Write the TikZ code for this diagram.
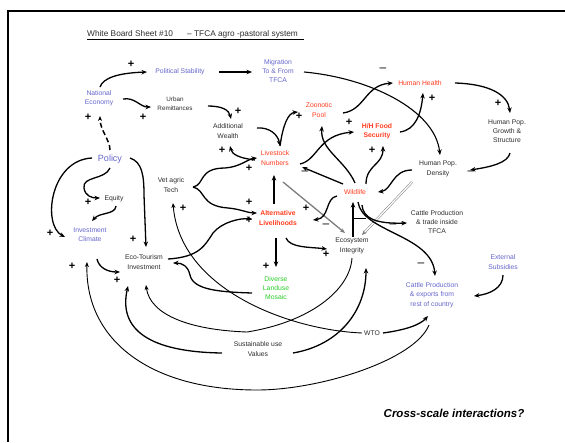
\documentclass[tikz,border=0pt]{standalone}
\usepackage{fontspec}
\setmainfont{Liberation Sans}
\usetikzlibrary{arrows.meta,calc}
\definecolor{tblue}{RGB}{102,102,204}
\definecolor{tred}{RGB}{255,60,30}
\definecolor{tgreen}{RGB}{40,205,40}
\definecolor{txt}{RGB}{45,45,45}
\definecolor{lgray}{RGB}{125,125,125}
\begin{document}
\begin{tikzpicture}[x=1pt,y=-1pt,
  lbl/.style={font=\fontsize{6.8}{9.3}\selectfont, text=txt, align=center, inner sep=0pt},
  blu/.style={lbl, text=tblue},
  rd/.style={lbl, text=tred},
  rdb/.style={lbl, text=tred, font=\fontsize{6.8}{9.3}\selectfont\bfseries},
  grn/.style={lbl, text=tgreen},
  ttl/.style={font=\fontsize{8.3}{9}\selectfont, text=txt, inner sep=0pt, anchor=base west},
  plus/.style={font=\fontsize{11}{11}\selectfont\bfseries, inner sep=0pt},
  minus/.style={font=\fontsize{12}{12}\selectfont, inner sep=0pt},
  arr/.style={line width=1.3pt, -{Stealth[length=5.5pt,width=4.5pt]}},
  thinarr/.style={line width=0.9pt, -{Stealth[length=5pt,width=4pt]}},
  thinline/.style={line width=0.9pt},
  gryarr/.style={line width=1.3pt, draw=lgray, -{Stealth[length=5pt,width=4pt]}},
  dblarr/.style={draw=lgray, line width=0.5pt, double=white, double distance=1.3pt, -{Stealth[length=5pt,width=4pt]}},
  dasharr/.style={line width=1.5pt, dash pattern=on 5pt off 3pt, -{Stealth[length=5pt,width=4pt]}}
]
\useasboundingbox (0,0) rectangle (565,442);
\fill[white] (0,0) rectangle (565,442);
\draw[line width=2pt] (8,442) -- (8,11) -- (565,11);

% title
\node[ttl] (t1) at (87,36) {White Board Sheet \#10};
\node[ttl] (t2) at (187,36) {– TFCA agro -pastoral system};
\draw[line width=0.6pt] ($(t1.base west)+(0,3)$) -- ($(t2.base east)+(6,3)$);

% nodes
\node[blu] (ne) at (99,98) {National\\Economy};
\node[blu] (ps) at (180,72) {Political Stability};
\node[blu] (mig) at (278,71) {Migration\\To \& From\\TFCA};
\node[lbl, font=\fontsize{6.3}{9.3}\selectfont] (ur) at (175,104) {Urban\\Remittances};
\node[lbl] (aw) at (228,131) {Additional\\Wealth};
\node[rd] (zp) at (319,110) {Zoonotic\\Pool};
\node[rd] (hh) at (420,83) {Human Health};
\node[rdb] (hfs) at (377,131) {H/H Food\\Security};
\node[lbl] (hpg) at (507,131) {Human Pop.\\Growth \&\\Structure};
\node[lbl] (hpd) at (438,169) {Human Pop.\\Density};
\node[rd] (ln) at (275,158) {Livestock\\Numbers};
\node[rd] (wl) at (355,192) {Wildlife};
\node[rdb] (al) at (278,218) {Alternative\\Livelihoods};
\node[lbl] (ei) at (352,246) {Ecosystem\\Integrity};
\node[lbl] (cpt) at (437,222) {Cattle Production\\\& trade inside\\TFCA};
\node[blu] (es) at (503,262) {External\\Subsidies};
\node[blu] (cpe) at (432,295) {Cattle Production\\\& exports from\\rest of country};
\node[blu, font=\fontsize{9}{10}\selectfont] (pol) at (110,159) {Policy};
\node[lbl] (eq) at (114,199) {Equity};
\node[lbl] (vat) at (171,185) {Vet agric\\Tech};
\node[blu] (ic) at (90,235) {Investment\\Climate};
\node[lbl] (eti) at (144,262) {Eco-Tourism\\Investment};
\node[grn] (dlm) at (276,288) {Diverse\\Landuse\\Mosaic};
\node[lbl] (suv) at (258,349) {Sustainable use\\Values};
\node[lbl] (wto) at (372,333) {WTO};
\node[font=\fontsize{11.5}{12}\selectfont\bfseries\itshape, inner sep=0pt] (cs) at (454,413) {Cross-scale interactions?};

% connectors
\draw[arr] ($(ne)+(1,-11)$) .. controls (103,78) and (118,73) .. ($(ps)+(-33,0)$);
\draw[arr] ($(ps)+(39,0)$) -- ($(mig)+(-26,1)$);
\draw[arr, line width=1.1pt] ($(mig)+(26,1)$) .. controls (370,78) and (435,110) .. ($(hpd)+(2,-14)$);
\draw[arr] ($(ne)+(24,1)$) .. controls (135,97) and (140,107) .. ($(ur)+(-24,3)$);
\draw[arr] ($(ur)+(33,2)$) .. controls (222,106) and (229,110) .. ($(aw)+(3,-12)$);
\draw[arr] ($(aw)+(29,-3)$) .. controls (270,127) and (278,135) .. ($(ln)+(5,-12)$);
\draw[arr] ($(ln)+(5,-12)$) .. controls (283,125) and (288,113) .. ($(zp)+(-21,2)$);
\draw[arr] ($(zp)+(24,3)$) .. controls (365,110) and (365,85) .. ($(hh)+(-27,0)$);
\draw[arr] ($(ln)+(25,6)$) .. controls (318,160) and (318,135) .. ($(hfs)+(-23,1)$);
\draw[arr] ($(wl)+(0,-9)$) .. controls (345,160) and (320,150) .. ($(zp)+(3,16)$);
\draw[arr] ($(wl)+(11,-8)$) .. controls (366,165) and (383,165) .. ($(hfs)+(6,15)$);
\draw[arr] ($(hfs)+(23,1)$) .. controls (415,130) and (421,115) .. ($(hh)+(3,10)$);
\draw[arr] ($(hh)+(35,0)$) .. controls (490,84) and (508,95) .. ($(hpg)+(3,-18)$);
\draw[arr] ($(hpg)+(3,22)$) .. controls (508,163) and (490,167) .. ($(hpd)+(32,1)$);
\draw[arr] ($(hpd)+(-26,1)$) .. controls (392,170) and (392,190) .. ($(wl)+(23,0)$);
\draw[dblarr] ($(hpd)+(-26,13)$) -- ($(ei)+(10,-11)$);
\draw[arr] ($(wl)+(-12,-8)$) -- ($(ln)+(27,9)$);
\draw[gryarr] ($(ln)+(8,24)$) -- ($(ei)+(-7,-13)$);
\draw[arr] ($(al)+(-4,-14)$) -- ($(ln)+(-1,17)$);
\draw[arr] ($(al)+(-2,20)$) -- ($(dlm)+(0,-21)$);
\draw[arr] ($(al)+(8,20)$) .. controls (290,248) and (310,247) .. ($(ei)+(-25,3)$);
\draw[arr] ($(wl)+(-18,4)$) .. controls (325,198) and (330,218) .. ($(al)+(35,2)$);
\draw[arr] ($(vat)+(22,2)$) .. controls (205,185) and (198,168) .. (225,168) .. controls (240,167) and (248,159) .. ($(ln)+(-18,0)$);
\draw[arr] ($(vat)+(22,2)$) .. controls (206,190) and (200,206) .. (228,208) .. controls (240,209) and (248,213) .. ($(al)+(-21,-5)$);
\draw[arr] ($(ln)+(-20,2)$) .. controls (238,158) and (232,154) .. ($(aw)+(2,15)$);
\draw[dasharr] ($(pol)+(0,-9)$) .. controls (110,140) and (100,130) .. ($(ne)+(1,18)$);
\draw[arr] ($(pol)+(0,9)$) .. controls (105,180) and (82,176) .. (84,188) .. controls (85,196) and (92,198) .. ($(eq)+(-14,-1)$);
\draw[arr] ($(eq)+(2,7)$) .. controls (115,215) and (100,212) .. ($(ic)+(2,-14)$);
\draw[arr] ($(pol)+(-18,-1)$) .. controls (50,160) and (42,225) .. ($(ic)+(-25,2)$);
\draw[arr] ($(pol)+(20,-1)$) .. controls (142,162) and (144,175) .. (144,195) -- ($(eti)+(2,-15)$);
\draw[arr] ($(ic)+(7,24)$) .. controls (99,268) and (108,272) .. ($(eti)+(-24,10)$);
\draw[arr] ($(eti)+(24,-3)$) .. controls (200,257) and (205,245) .. (213,233) .. controls (222,222) and (240,218) .. ($(al)+(-26,1)$);
\draw[arr] ($(dlm)+(-24,5)$) .. controls (220,292) and (193,290) .. (190,275) .. controls (188,266) and (182,263) .. ($(eti)+(29,1)$);
\draw[thinarr] ($(wto)+(-10,0)$) .. controls (290,330) and (180,290) .. ($(vat)+(2,18)$);
\draw[thinarr] ($(ei)+(0,12)$) .. controls (350,290) and (310,322) .. (247,332) .. controls (190,330) and (150,315) .. ($(eti)+(2,23)$);
\draw[arr] ($(suv)+(35,4)$) .. controls (340,345) and (366,310) .. ($(ei)+(14,22)$);
\draw[arr] ($(suv)+(-36,4)$) .. controls (150,352) and (118,330) .. ($(eti)+(-16,24)$);
\draw[thinarr] ($(cpe)+(-3,30)$) .. controls (415,360) and (320,390) .. (257,390) .. controls (150,390) and (85,340) .. ($(ic)+(-3,27)$);
\draw[arr] ($(wto)+(11,0)$) .. controls (405,330) and (420,325) .. ($(cpe)+(-4,21)$);
\draw[arr] ($(es)+(0,13)$) .. controls (503,288) and (490,294) .. ($(cpe)+(42,1)$);
\draw[arr] ($(wl)+(7,13)$) .. controls (363,218) and (375,224) .. ($(cpt)+(-30,1)$);
\draw[arr] ($(wl)+(3,10)$) .. controls (362,232) and (432,235) .. ($(cpe)+(3,-19)$);
\draw[arr] ($(ei)+(1,-9)$) -- ($(wl)+(-2,10)$);
\draw[thinline] ($(wl)+(-2,26)$) -- ($(wl)+(11,26)$);

% signs
\foreach \x/\y [count=\i] in {131/64,88/117,143/117,238/111,299/116,349/122,372/150,432/98,498/103,222/150,249/168,249/202,249/220,306/208,326/254,266/266,183/208,88/202,50/233,133/239,72/266,117/280}
  \node[plus] (p\i) at (\x,\y) {+};
\foreach \x/\y [count=\i] in {383/70,471/173,305/173,326/226,393/226,421/265}
  \node[minus] (m\i) at (\x,\y) {–};
\end{tikzpicture}
\end{document}
